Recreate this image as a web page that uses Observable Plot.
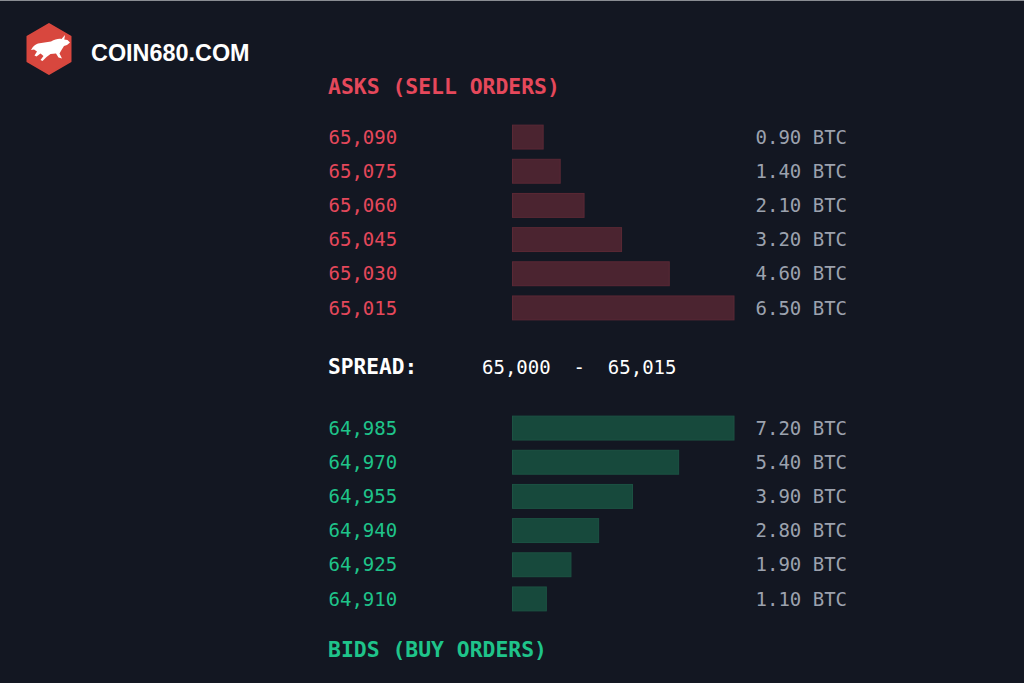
<!DOCTYPE html>
<html><head><meta charset="utf-8">
<script src="https://cdn.jsdelivr.net/npm/d3@7"></script>
<script src="https://cdn.jsdelivr.net/npm/@observablehq/plot@0.6"></script>
<style>
html,body{margin:0;padding:0;background:#131722;}
#wrap{position:relative;width:1024px;height:683px;background:#131722;overflow:hidden;font-family:"DejaVu Sans Mono",monospace;}
#topline{position:absolute;left:0;top:0;width:1024px;height:1px;background:#8a8d93;}
.abs{position:absolute;white-space:pre;}
#brand{left:91px;top:39px;line-height:28px;font-family:"Liberation Sans",Arial,sans-serif;font-weight:bold;font-size:23.4px;color:#ffffff;}
.head{left:328px;font-weight:bold;font-size:21.4px;line-height:24px;}
#askhead{top:75px;color:#e5485b;}
#bidhead{top:638px;color:#1fc48a;}
#spread{left:328px;top:355px;font-weight:bold;font-size:21.2px;line-height:24px;color:#ffffff;}
#spreadval{left:482px;top:355px;font-size:19px;line-height:24px;color:#ffffff;}
#asks{left:0;top:120px;}
#bids{left:0;top:411px;}
#logo{left:26px;top:23px;}
</style>
</head><body>
<div id="wrap">
  <div id="topline"></div>
  <svg id="logo" class="abs" width="46" height="52" viewBox="0 0 46 52">
    <path d="M23,1 L44.5,13.5 L44.5,38.5 L23,51 L1.5,38.5 L1.5,13.5 Z" fill="#d8473e" stroke="#d8473e" stroke-width="2" stroke-linejoin="round"/>
    <path d="M5,27 C7,23 9,21.5 12,20.5 L25,18.5 C29,16.5 32,15.5 35.5,16 L39,12 L38.3,16.5 L41.5,17 L44,19.5 L41,22 L38,23 L35.5,27 L33.5,30.5 L36,35.5 L32.5,34.5 L30,30.5 L24.5,31 L20.5,34 L16.5,38 L14.5,37 L17.5,33 L14.5,30.5 L10.5,33.5 L8.5,32.5 L11,28.5 L8,26.5 Z" fill="#ffffff"/>
  </svg>
  <div id="brand" class="abs">COIN680.COM</div>
  <div id="askhead" class="abs head">ASKS (SELL ORDERS)</div>
  <div id="spread" class="abs">SPREAD:</div>
  <div id="spreadval" class="abs"></div>
  <div id="bidhead" class="abs head">BIDS (BUY ORDERS)</div>
  <div id="asks" class="abs"></div>
  <div id="bids" class="abs"></div>
</div>
<script>
// Data
const askPrices = [65090, 65075, 65060, 65045, 65030, 65015];
const askSizes  = [0.90, 1.40, 2.10, 3.20, 4.60, 6.50];
const bidPrices = [64985, 64970, 64955, 64940, 64925, 64910];
const bidSizes  = [7.20, 5.40, 3.90, 2.80, 1.90, 1.10];
const spreadLow = 65000;
const spreadHigh = 65015;

const fmt = d3.format(",");
document.getElementById("spreadval").textContent = fmt(spreadLow) + "  -  " + fmt(spreadHigh);

function book(prices, sizes, priceColor, barFill, barStroke) {
  const rows = prices.map((p, i) => ({price: p, size: sizes[i]}));
  return Plot.plot({
    width: 1024, height: 205,
    marginLeft: 512.5, marginRight: 290, marginTop: 0, marginBottom: 0,
    x: {domain: [0, d3.max(sizes)], axis: null},
    y: {domain: prices, axis: null, paddingInner: 0.3, paddingOuter: 0.15, round: false},
    style: {background: "transparent", fontFamily: "'DejaVu Sans Mono', monospace", fontSize: "19px", overflow: "visible"},
    marks: [
      Plot.barX(rows, {x: "size", y: "price", fill: barFill, stroke: barStroke, strokeWidth: 1}),
      Plot.text(rows, {y: "price", text: d => fmt(d.price), frameAnchor: "left", dx: -184.5, textAnchor: "start", fill: priceColor}),
      Plot.text(rows, {y: "price", text: d => d.size.toFixed(2) + " BTC", frameAnchor: "right", dx: 21, textAnchor: "start", fill: "#9ca2ae"})
    ]
  });
}

document.getElementById("asks").appendChild(book(askPrices, askSizes, "#e5485b", "#4b2430", "#5a2835"));
document.getElementById("bids").appendChild(book(bidPrices, bidSizes, "#1fc48a", "#17493c", "#1c5243"));
</script>
</body></html>
